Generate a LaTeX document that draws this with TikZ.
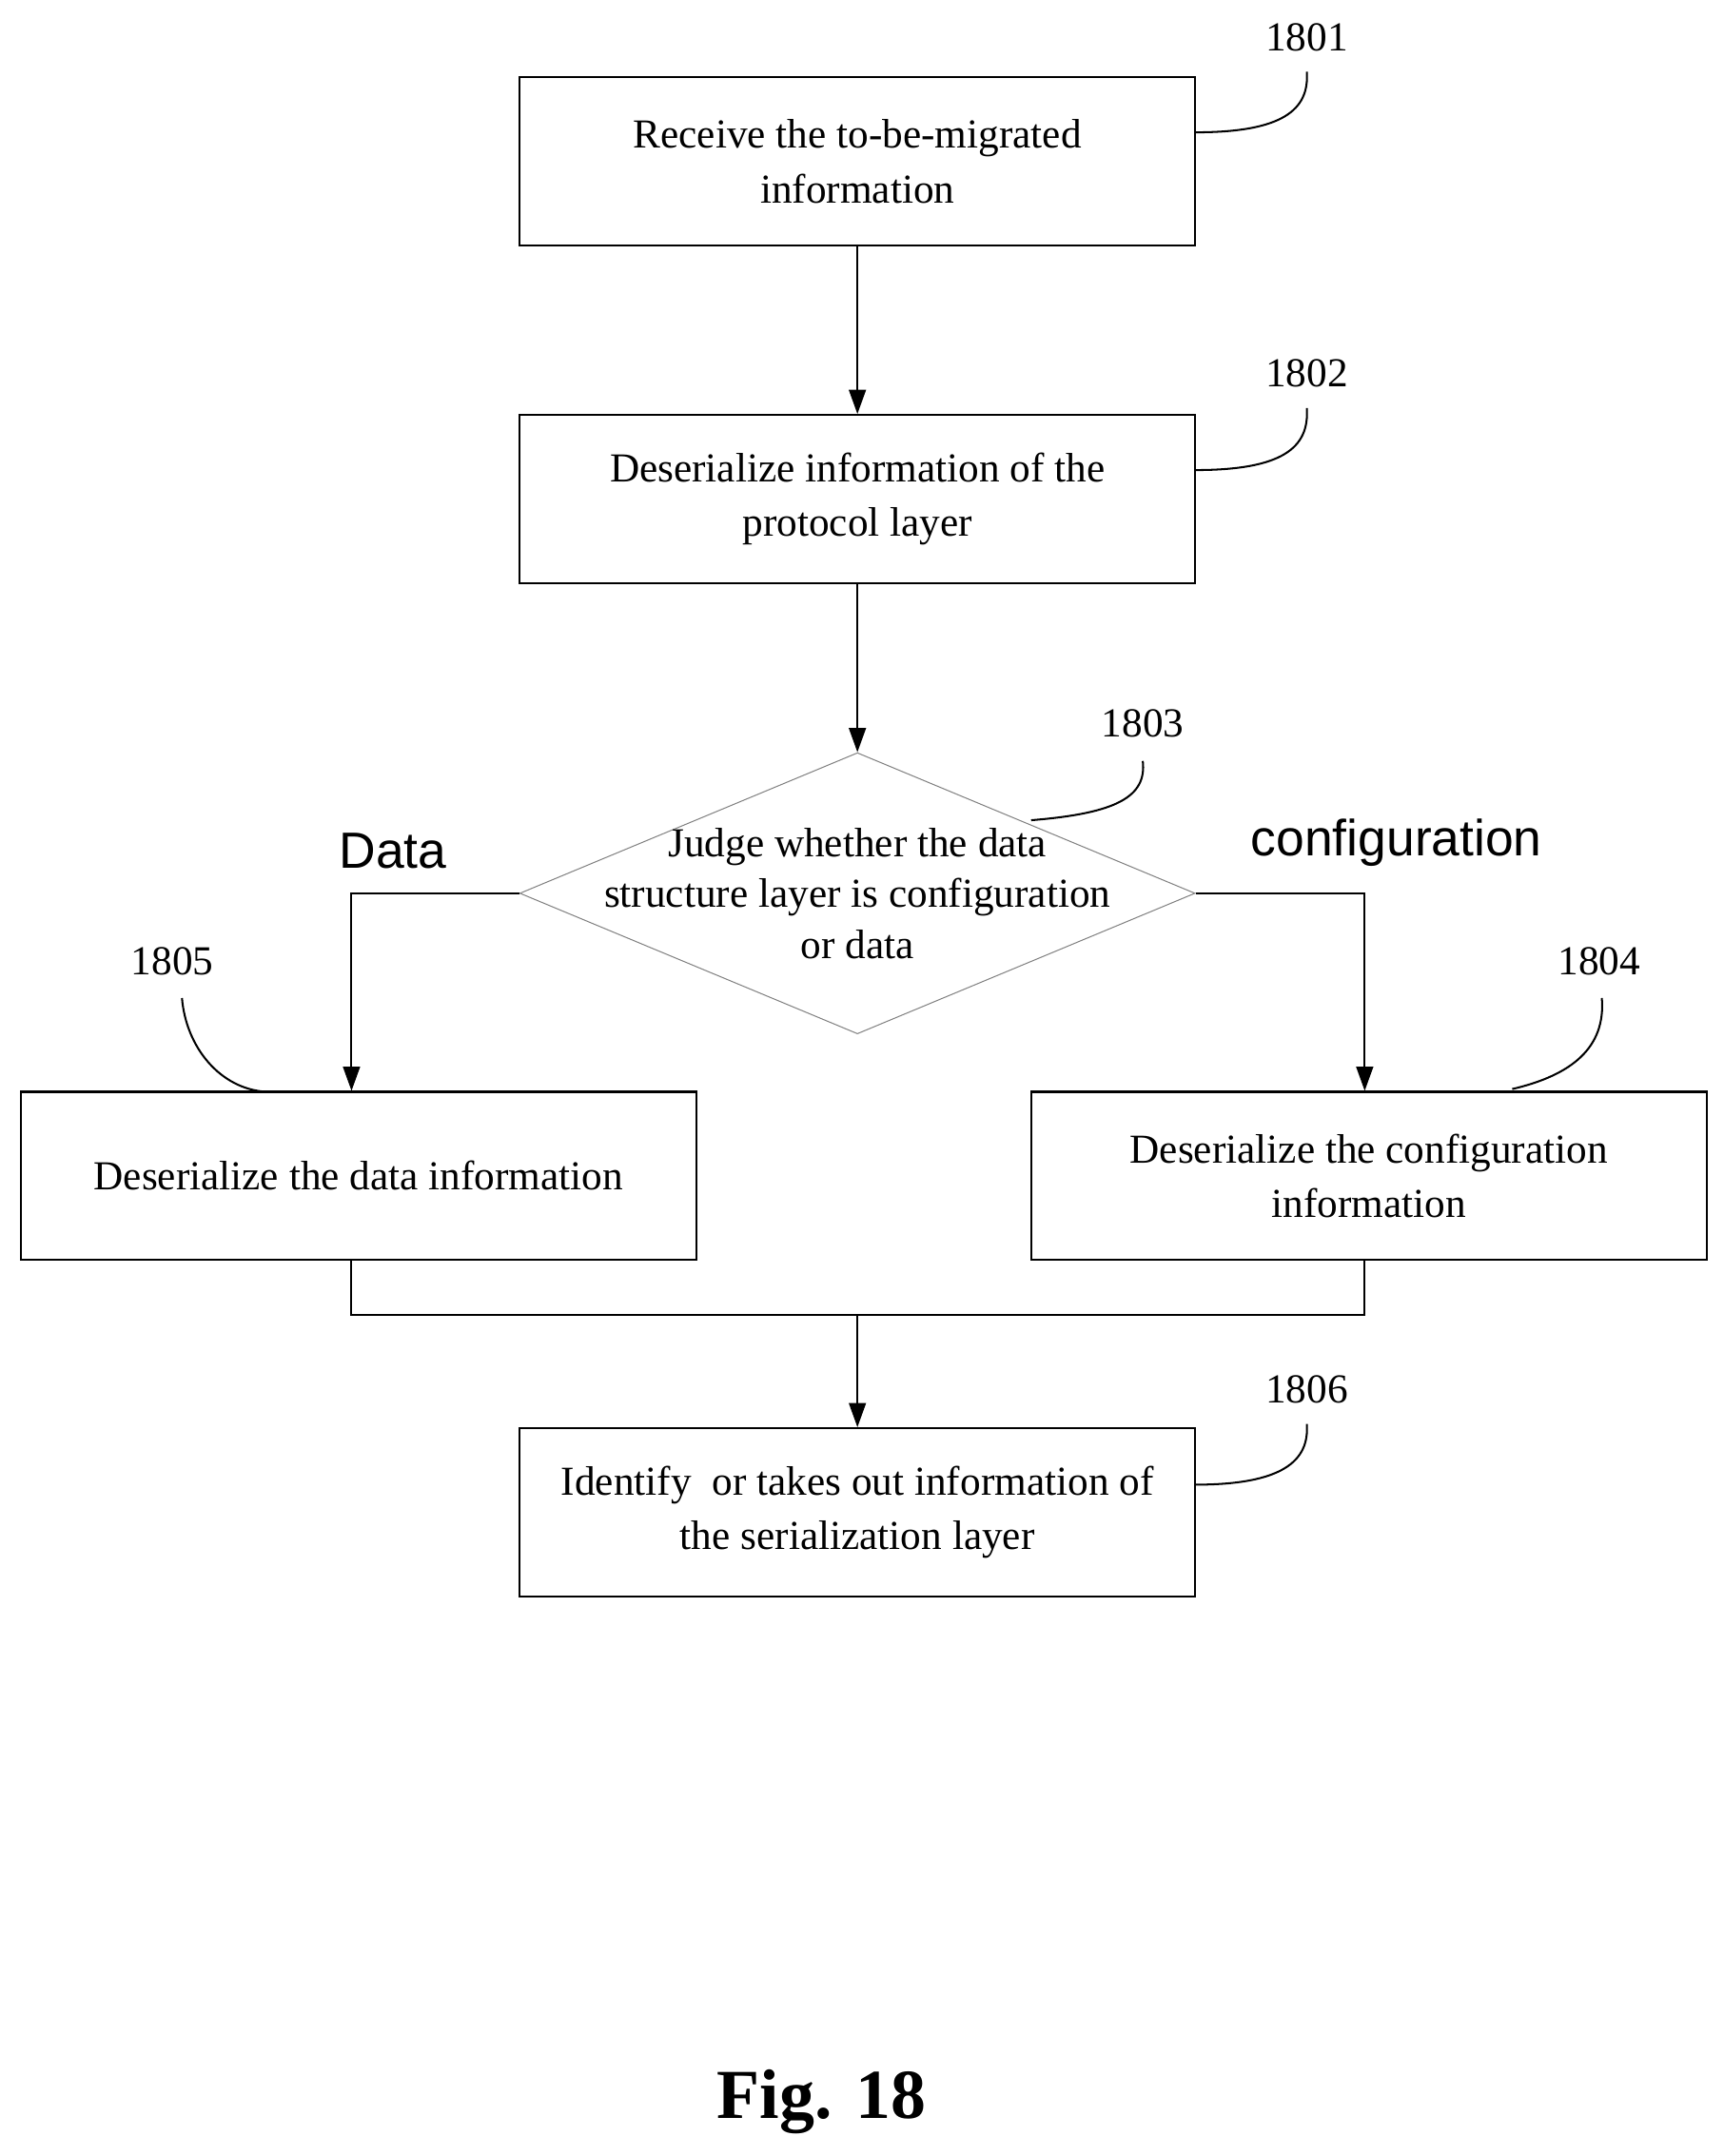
\documentclass[tikz,border=0pt]{standalone}
\usepackage{fontspec}
\setmainfont{Liberation Serif}
\setsansfont{Liberation Sans}
\usetikzlibrary{shapes.geometric, arrows.meta, positioning}

\begin{document}
\begin{tikzpicture}[x=0.02cm, y=-0.02cm,
  proc/.style={draw, thick, minimum width=9.8cm, minimum height=2.44cm,
               align=center, font=\fontsize{17}{22.7}\selectfont},
  decide/.style={diamond, draw=gray, minimum width=9.8cm, minimum height=4.08cm, inner sep=0pt},
  num/.style={font=\fontsize{17}{20}\selectfont},
  tag/.style={font=\sffamily\fontsize{21}{24}\selectfont},
  arr/.style={-{Triangle[length=10pt, width=7pt]}, thick},
  lead/.style={thick},
]
\useasboundingbox (0,0) rectangle (1250,1564);

% steps
\node[proc] (s1801) at (622,117) {Receive the to-be-migrated\\information};
\node[proc] (s1802) at (622,362) {Deserialize information of the\\protocol layer};
\node[decide, label={[align=center, font=\fontsize{17}{21}\selectfont]center:Judge whether the data\\structure layer is configuration\\or data}] (s1803) at (622,648) {};
\node[proc] (s1805) at (260,853) {Deserialize the data information};
\node[proc] (s1804) at (993,853) {Deserialize the configuration\\information};
\node[proc] (s1806) at (622,1097) {Identify\ \ or takes out information of\\the serialization layer};

% connectors
\coordinate (join) at (622,954);
\draw[arr] (s1801) -- (s1802);
\draw[arr] (s1802) -- (s1803);
\draw[arr] (s1803.west) -| ([xshift=-0.1cm]s1805.north);
\draw[arr] (s1803.east) -| ([xshift=-0.06cm]s1804.north);
\draw[thick] ([xshift=-0.1cm]s1805.south) |- (join) -| ([xshift=-0.06cm]s1804.south);
\draw[arr] (join) -- (s1806);

% branch labels
\node[tag] (ldata) at (285,617) {Data};
\node[tag] (lconf) at (1013,611) {configuration};

% step numbers
\node[num] (n1801) at (948,27) {1801};
\node[num] (n1802) at (948,271) {1802};
\node[num] (n1803) at (829,525) {1803};
\node[num] (n1805) at (125,697) {1805};
\node[num] (n1804) at (1160,697) {1804};
\node[num] (n1806) at (948,1008) {1806};
\draw[lead] (867,96) .. controls (930,96) and (950,80) .. (948,52);
\draw[lead] (867,341) .. controls (930,341) and (950,325) .. (948,296);
\draw[lead] (748,595) .. controls (810,590) and (832,578) .. (829,552);
\draw[lead] (193,792) .. controls (160,790) and (135,760) .. (132,724);
\draw[lead] (1097,790) .. controls (1140,780) and (1165,760) .. (1162,724);
\draw[lead] (867,1077) .. controls (930,1077) and (950,1060) .. (948,1033);

\node[font=\bfseries\fontsize{29}{32}\selectfont] (fig) at (596,1525) {Fig. 18};
\end{tikzpicture}
\end{document}
